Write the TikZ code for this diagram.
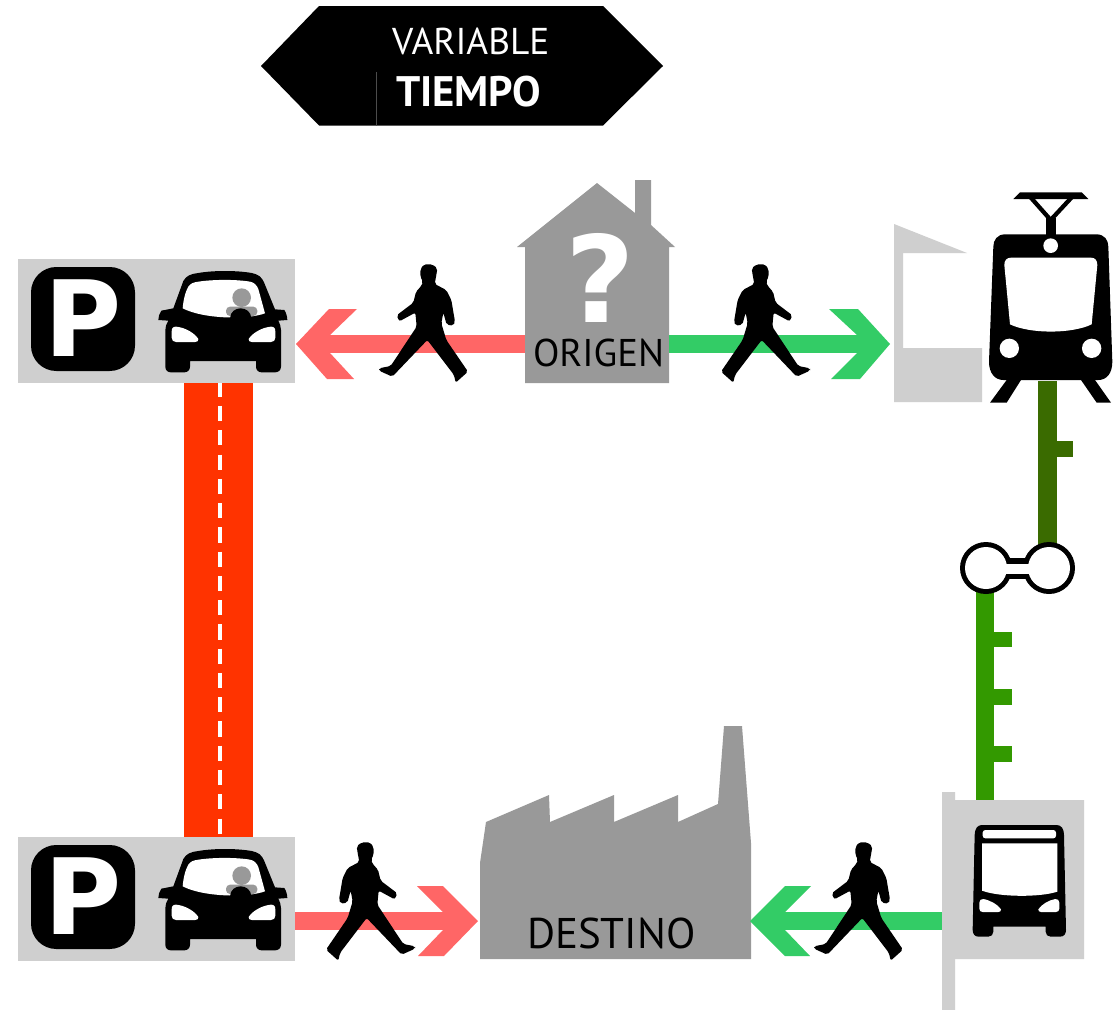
\documentclass[tikz,border=0pt]{standalone}
\usepackage{fontspec}
\setmainfont{PT Sans}
\newfontfamily\signfont{DejaVu Sans}
\definecolor{panelgray}{HTML}{CFCFCF}
\definecolor{bldgray}{HTML}{999999}
\definecolor{walkred}{HTML}{FF6666}
\definecolor{walkgreen}{HTML}{33CC66}
\definecolor{roadred}{HTML}{FF3300}
\definecolor{tramgreen}{HTML}{3A6B00}
\definecolor{metrogreen}{HTML}{339900}
\tikzset{
  panel/.style={fill=panelgray,inner sep=0pt,outer sep=0pt,minimum width=207.75pt,minimum height=93pt},
  redshaft/.style={draw=walkred,line width=13.5pt},
  greenshaft/.style={draw=walkgreen,line width=13.5pt},
  redhead/.style={fill=walkred},
  greenhead/.style={fill=walkgreen},
  road/.style={draw=roadred,line width=51.75pt},
  roaddash/.style={draw=white,line width=3pt,dash pattern=on 11.4pt off 6.8pt},
  tramline/.style={draw=tramgreen,line width=14.25pt},
  metroline/.style={draw=metrogreen,line width=13.5pt},
  label/.style={inner sep=0pt,outer sep=0pt,text=black},
}
\newcommand{\walkerfig}[3]{%
  \begin{scope}[shift={(#1,#2)},xscale=#3/3,yscale=1/3,shift={(-18,-12)}]
    \fill[black,rounded corners=1.5pt] (125,13)--(150,13)--(161,28)--(161,50)--(153,65)--(158,78)--(174,95)--(182,128)--(232,166)--(224,184)--(176,158)--(172,200)--(250,318)--(285,325)--(285,332)--(245,350)--(140,240)--(60,345)--(55,368)--(18,335)--(83,240)--(98,190)--(92,158)--(82,194)--(62,197)--(57,185)--(68,120)--(83,90)--(118,72)--(113,45)--(110,25)--cycle;
  \end{scope}}
\newcommand{\carfig}[1]{%
  \begin{scope}[shift={(150,#1)},scale=1/3]
    \fill[black] (70,130) -- (100,48) .. controls (108,32) and (125,26) .. (145,24) .. controls (190,16) and (260,16) .. (305,24) .. controls (325,28) and (335,36) .. (342,52) -- (375,133) -- (403,135) .. controls (408,142) and (412,155) .. (412,165) -- (385,167) .. controls (390,178) and (393,185) .. (393,195) -- (393,305) .. controls (393,316) and (385,322) .. (375,322) -- (335,322) .. controls (325,322) and (318,315) .. (318,305) -- (318,288) -- (120,288) -- (120,305) .. controls (120,315) and (113,322) .. (103,322) -- (63,322) .. controls (53,322) and (46,316) .. (46,305) -- (46,195) .. controls (46,185) and (49,178) .. (55,167) -- (25,165) .. controls (25,155) and (28,145) .. (34,137) -- cycle;
    \fill[white] (98,130) .. controls (100,105) and (106,80) .. (115,65) .. controls (122,55) and (130,52) .. (145,50) .. controls (190,43) and (260,43) .. (300,50) .. controls (312,52) and (320,60) .. (325,72) -- (345,145) .. controls (290,165) and (160,162) .. (98,130) -- cycle;
    \fill[bldgray] (275,98) circle (28);
    \fill[bldgray,rounded corners=3pt] (228,125) rectangle (322,153);
    \fill[black] (240,160) .. controls (242,120) and (302,120) .. (304,160) -- cycle;
    \fill[white] (65,200) .. controls (65,190) and (68,185) .. (78,185) .. controls (105,187) and (135,205) .. (145,222) .. controls (146,228) and (142,231) .. (135,231) -- (78,231) .. controls (70,231) and (65,226) .. (65,218) -- cycle;
    \fill[white] (376,200) .. controls (376,190) and (373,185) .. (363,185) .. controls (336,187) and (306,205) .. (296,222) .. controls (295,228) and (299,231) .. (306,231) -- (363,231) .. controls (371,231) and (376,226) .. (376,218) -- cycle;
  \end{scope}}
\newcommand{\parkfig}[2]{%
  \fill[black,rounded corners=19pt] (31,#1) rectangle (135,#1+104);
  \node[label,anchor=base west,text=white,font=\signfont\bfseries\fontsize{79pt}{79pt}\selectfont] (#2) at (45,#1+89) {P};}
\begin{document}
\begin{tikzpicture}[x=0.75pt,y=-0.75pt]
\useasboundingbox (0,0) rectangle (1118,1010);
\fill[white] (0,0) rectangle (1118,1010);

% banner
\fill[black] (261,66) -- (319,6) -- (603,6) -- (663,66) -- (603,125.5) -- (319,125.5) -- cycle;
\draw[draw=black!70!white,line width=0.4pt] (376.5,72) -- (376.5,125.5);
\node[label,text=white,anchor=base west,font=\fontsize{28pt}{28pt}\selectfont] (var) at (392,54) {VARIABLE};
\node[label,text=white,anchor=base west,font=\bfseries\fontsize{32pt}{32pt}\selectfont] (tiempo) at (396,106) {TIEMPO};

% panels
\node[panel] (parkA) at (156.5,321) {};
\node[panel] (parkB) at (156.5,899) {};
\coordinate (roadA) at (219.5,381.7);
\coordinate (roadB) at (219.5,837);
\draw[road] (218.5,383) -- (218.5,837);
\draw[roaddash] (roadA) -- (roadB);
\fill[panelgray] (parkA.south west) rectangle (parkA.north east);
\fill[panelgray] (parkB.south west) rectangle (parkB.north east);

\parkfig{267}{pA}
\parkfig{845}{pB}
\carfig{265}
\carfig{843}

% house
\fill[bldgray] (597,183) -- (635,213) -- (635,180) -- (651,180) -- (651,225) -- (675,247) -- (669,247) -- (669,383) -- (525,383) -- (525,247) -- (517,247) -- cycle;
\node[label,text=white,anchor=base,font=\signfont\bfseries\fontsize{90pt}{90pt}\selectfont] (q) at (600,322) {?};
\node[label,anchor=base west,font=\fontsize{29pt}{29pt}\selectfont] (origen) at (533,366) {ORIGEN};

% factory
\fill[bldgray] (480,959) -- (480,863) -- (486,822) -- (549,795) -- (550,822) -- (614,795) -- (614,822) -- (678,795) -- (678,822) -- (718,804) -- (724,726) -- (742,726) -- (751,843) -- (751,959) -- cycle;
\node[label,anchor=base west,font=\fontsize{32.2pt}{32.2pt}\selectfont] (destino) at (527,948) {DESTINO};

% walk arrows
\coordinate (hA) at (330,344);
\coordinate (hB) at (525,344);
\draw[redshaft] (hB) -- (hA);
\fill[redhead] (296,344) -- (329,309) -- (357,309) -- (330,335) -- (330,353) -- (354,379) -- (327,379) -- cycle;
\coordinate (gA) at (669,344);
\coordinate (gB) at (857,344);
\draw[greenshaft] (gA) -- (gB);
\fill[greenhead] (890,344) -- (858,309) -- (829,309) -- (857,335) -- (857,353) -- (831,379) -- (860,379) -- cycle;
\coordinate (rA) at (parkB.east |- 0,921);
\coordinate (rB) at (444,921);
\draw[redshaft] (rA) -- (rB);
\fill[redhead] (478,921) -- (443,886) -- (417,886) -- (443,912) -- (443,930) -- (418,956) -- (444,956) -- cycle;
\coordinate (bA) at (942,921);
\coordinate (bB) at (785,921);
\draw[greenshaft] (bA) -- (bB);
\fill[greenhead] (750,921) -- (785,886) -- (811,886) -- (785,912) -- (785,930) -- (810,956) -- (785,956) -- cycle;

% walkers
\walkerfig{721}{264}{1}
\walkerfig{468}{264}{-1}
\walkerfig{326}{842}{1}
\walkerfig{903}{842}{-1}

% shelter
\fill[panelgray] (894,224) -- (967,253) -- (903,253) -- (903,348) -- (982,348) -- (982,402) -- (894,402) -- cycle;

% rail lines
\coordinate (tA) at (1047.5,381);
\coordinate (tB) at (1047.5,549);
\draw[tramline] (tA) -- (tB);
\fill[tramgreen] (1055,441) rectangle (1073,457);
\coordinate (mA) at (985,590);
\coordinate (mB) at (985,802);
\draw[metroline] (mA) -- (mB);
\fill[metrogreen] (992,632) rectangle (1012,647);
\fill[metrogreen] (992,689) rectangle (1012,705);
\fill[metrogreen] (992,746) rectangle (1012,762);

% interchange
\fill[black] (986,568) circle (26);
\fill[black] (1049,568) circle (26);
\fill[black] (1000,558) rectangle (1035,579);
\fill[white] (986,568) circle (21);
\fill[white] (1049,568) circle (21);
\fill[white] (1000,563.5) rectangle (1035,574);

% tram
\begin{scope}[shift={(985,185)},scale=1/3]
  \fill[black] (15,653) -- (65,585) -- (108,585) -- (65,653) -- cycle;
  \fill[black] (378,653) -- (330,585) -- (288,585) -- (335,653) -- cycle;
  \fill[black] (60,148) -- (335,148) .. controls (358,148) and (370,165) .. (370,185) -- (382,530) .. controls (382,565) and (365,585) .. (340,585) -- (55,585) .. controls (30,585) and (12,565) .. (12,530) -- (25,185) .. controls (25,165) and (37,148) .. (60,148) -- cycle;
  \fill[white] (58,240) .. controls (58,226) and (65,218) .. (78,218) -- (318,218) .. controls (330,218) and (337,226) .. (337,240) -- (320,418) .. controls (260,447) and (135,447) .. (75,418) -- cycle;
  \fill[white] (73,490) circle (29);
  \fill[white] (320,490) circle (29);
  \fill[white] (197,182) circle (22);
  \fill[black] (183,100) rectangle (212,152);
  \draw[black,line width=3.2pt] (135,35) -- (197,105) -- (262,35);
  \fill[black] (105,22) -- (290,22) -- (310,42) -- (85,42) -- cycle;
\end{scope}

% bus stop
\fill[panelgray] (942,792) -- (955,792) -- (955,800) -- (1084,800) -- (1084,959) -- (955,959) -- (955,1010) -- (942,1010) -- cycle;
\begin{scope}[shift={(900,770)},scale=1/3]
  \fill[black] (245,165) -- (470,165) .. controls (485,165) and (492,178) .. (492,195) -- (498,480) .. controls (498,492) and (492,500) .. (480,500) -- (452,500) .. controls (443,500) and (437,494) .. (437,485) -- (437,470) -- (280,470) -- (280,485) .. controls (280,494) and (274,500) .. (265,500) -- (235,500) .. controls (225,500) and (218,492) .. (218,480) -- (224,195) .. controls (224,178) and (232,165) .. (245,165) -- cycle;
  \fill[white,rounded corners=2pt] (248,180) rectangle (468,205);
  \fill[white] (246,220) -- (472,220) -- (472,365) .. controls (420,382) and (300,382) .. (246,362) -- cycle;
  \fill[white] (238,398) .. controls (238,390) and (243,387) .. (250,387) .. controls (270,390) and (295,405) .. (303,418) .. controls (304,423) and (300,426) .. (295,426) -- (248,426) .. controls (242,426) and (238,422) .. (238,416) -- cycle;
  \fill[white] (478,398) .. controls (478,390) and (473,387) .. (466,387) .. controls (446,390) and (423,405) .. (415,418) .. controls (414,423) and (418,426) .. (423,426) -- (468,426) .. controls (474,426) and (478,422) .. (478,416) -- cycle;
\end{scope}
\end{tikzpicture}
\end{document}
